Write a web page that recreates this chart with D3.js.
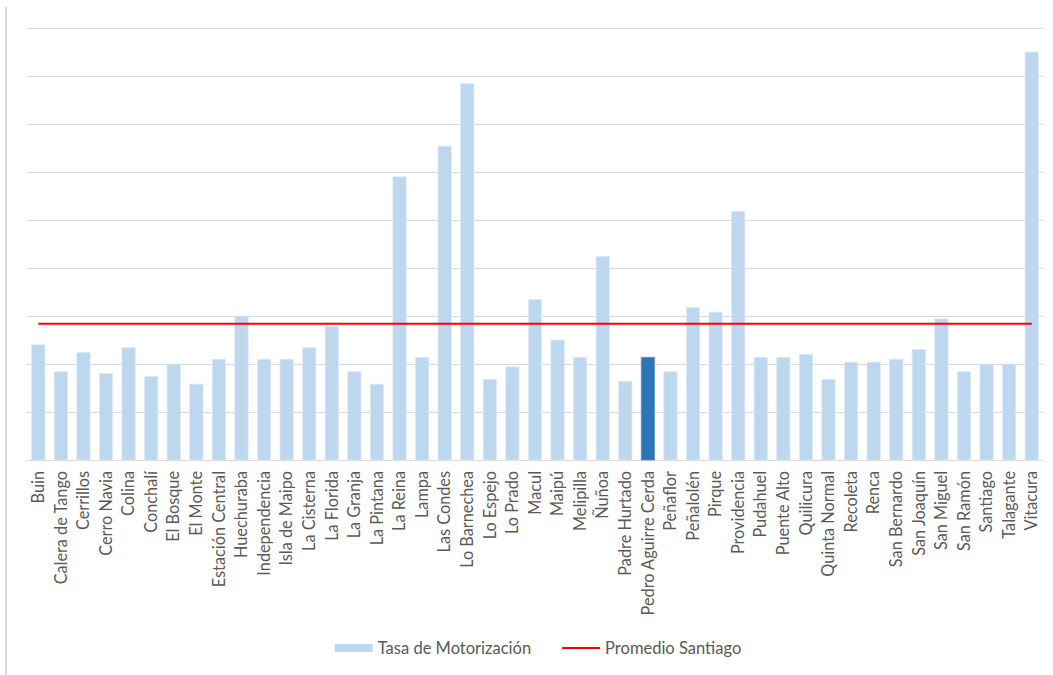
<!DOCTYPE html>
<html>
<head>
<meta charset="utf-8">
<script src="https://cdn.jsdelivr.net/npm/d3@7"></script>
<style>
  html, body { margin: 0; padding: 0; background: #fff; }
  svg { display: block; font-family: Lato, "Open Sans", sans-serif; }
</style>
</head>
<body>
<svg id="chart" width="1053" height="675"></svg>
<script>
// Comunas de la Región Metropolitana
const comunas = [
  "Buin", "Calera de Tango", "Cerrillos", "Cerro Navia", "Colina", "Conchalí",
  "El Bosque", "El Monte", "Estación Central", "Huechuraba", "Independencia",
  "Isla de Maipo", "La Cisterna", "La Florida", "La Granja", "La Pintana",
  "La Reina", "Lampa", "Las Condes", "Lo Barnechea", "Lo Espejo", "Lo Prado",
  "Macul", "Maipú", "Melipilla", "Ñuñoa", "Padre Hurtado", "Pedro Aguirre Cerda",
  "Peñaflor", "Peñalolén", "Pirque", "Providencia", "Pudahuel", "Puente Alto",
  "Quilicura", "Quinta Normal", "Recoleta", "Renca", "San Bernardo",
  "San Joaquín", "San Miguel", "San Ramón", "Santiago", "Talagante", "Vitacura"
];

// Tasa de motorización (vehículos por cada 1.000 habitantes)
const tasaMotorizacion = [
  120, 92, 112, 90, 117, 87,
  100, 79, 105, 150, 105,
  105, 117, 139, 92, 79,
  295, 107, 327, 392, 84, 97,
  167, 125, 107, 212, 82, 107,
  92, 159, 154, 259, 107, 107,
  110, 84, 102, 102, 105,
  115, 147, 92, 100, 100, 425
];

// Promedio de la Región Metropolitana
const promedioSantiago = 142;

// Comuna destacada
const destacada = "Pedro Aguirre Cerda";

// Rango del eje vertical y separación de las líneas de cuadrícula
const yMax = 450;
const yStep = 50;

const serieNombres = ["Tasa de Motorización", "Promedio Santiago"];

const colorBarra = "#BDD7EE";
const colorDestacada = "#2E75B6";
const colorPromedio = "#FF0000";
const colorGrid = "#D9D9D9";
const colorTexto = "#595959";

const svg = d3.select("#chart");

const plot = { left: 27, right: 1043, top: 28, bottom: 460 };

const x = d3.scaleBand()
  .domain(comunas)
  .range([plot.left, plot.right])
  .paddingInner(0.41)
  .paddingOuter(0.205);

const y = d3.scaleLinear()
  .domain([0, yMax])
  .range([plot.bottom, plot.top]);

// Borde izquierdo del área del gráfico
svg.append("line")
  .attr("x1", 6).attr("x2", 6)
  .attr("y1", 7).attr("y2", 675)
  .attr("stroke", colorGrid)
  .attr("stroke-width", 2);

// Líneas de cuadrícula horizontales
const gridAxis = d3.axisLeft(y)
  .tickValues(d3.range(0, yMax + 1, yStep))
  .tickSize(-(plot.right - plot.left))
  .tickFormat("");

const grid = svg.append("g")
  .attr("transform", `translate(${plot.left},0)`)
  .call(gridAxis);
grid.select(".domain").remove();
grid.selectAll(".tick line")
  .attr("stroke", colorGrid)
  .attr("stroke-width", 1);

// Barras
const datos = comunas.map((c, i) => ({ comuna: c, valor: tasaMotorizacion[i] }));

svg.append("g")
  .selectAll("rect")
  .data(datos)
  .join("rect")
  .attr("x", d => x(d.comuna))
  .attr("width", x.bandwidth())
  .attr("y", d => y(d.valor))
  .attr("height", d => y(0) - y(d.valor))
  .attr("fill", d => d.comuna === destacada ? colorDestacada : colorBarra)
  .attr("stroke", d => d.comuna === destacada ? "#5B93C7" : "#DDEAF6")
  .attr("stroke-width", 0.8);

// Línea del promedio
const linea = d3.line()
  .x(d => x(d) + x.bandwidth() / 2)
  .y(() => y(promedioSantiago));

svg.append("path")
  .datum([comunas[0], comunas[comunas.length - 1]])
  .attr("d", linea)
  .attr("fill", "none")
  .attr("stroke", colorPromedio)
  .attr("stroke-width", 2);

// Etiquetas del eje de categorías (rotadas)
const xAxis = d3.axisBottom(x).tickSize(0).tickPadding(0);
const ejeX = svg.append("g")
  .attr("transform", `translate(0,${plot.bottom})`)
  .call(xAxis);
ejeX.select(".domain").remove();
ejeX.selectAll(".tick text")
  .attr("transform", "translate(0,11) rotate(-90)")
  .attr("x", 0)
  .attr("y", 0)
  .attr("dy", "0.35em")
  .attr("text-anchor", "end")
  .attr("fill", colorTexto)
  .style("font-family", "Lato, 'Open Sans', sans-serif")
  .style("font-size", "16.3px");

// Leyenda
const leyenda = svg.append("g");
const legY = 648;

const item1 = leyenda.append("g");
item1.append("rect")
  .attr("x", 0).attr("y", legY - 4)
  .attr("width", 38).attr("height", 8)
  .attr("fill", colorBarra);
const t1 = item1.append("text")
  .attr("x", 43).attr("y", legY)
  .attr("dy", "0.35em")
  .attr("fill", colorTexto)
  .style("font-size", "16.5px")
  .text(serieNombres[0]);

const w1 = 43 + t1.node().getComputedTextLength();

const item2 = leyenda.append("g").attr("transform", `translate(${w1 + 31},0)`);
item2.append("line")
  .attr("x1", 0).attr("x2", 38)
  .attr("y1", legY).attr("y2", legY)
  .attr("stroke", colorPromedio)
  .attr("stroke-width", 2);
const t2 = item2.append("text")
  .attr("x", 43).attr("y", legY)
  .attr("dy", "0.35em")
  .attr("fill", colorTexto)
  .style("font-size", "16.5px")
  .text(serieNombres[1]);

const total = w1 + 31 + 43 + t2.node().getComputedTextLength();
leyenda.attr("transform", `translate(${538 - total / 2},0)`);
</script>
</body>
</html>
